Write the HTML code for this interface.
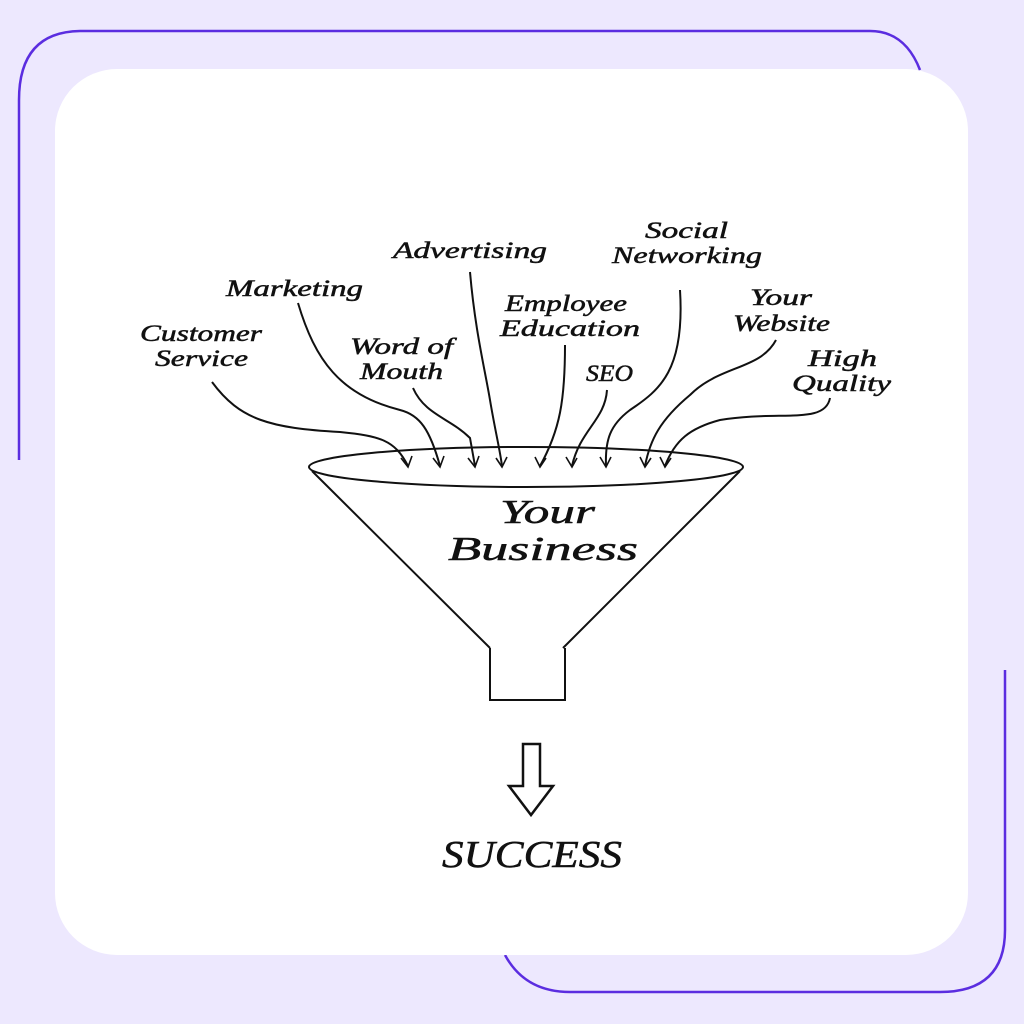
<!DOCTYPE html>
<html><head><style>
html,body{margin:0;padding:0;background:#ede8fe;}
svg{display:block}
text{font-family:"Liberation Serif",serif;font-style:italic;fill:#111;stroke:#111;stroke-width:0.5;}
</style></head><body>
<svg width="1024" height="1024" viewBox="0 0 1024 1024">
<rect width="1024" height="1024" fill="#ede8fe"/>
<path d="M19,460 L19,100 Q19,32 80,31 L870,31 Q905,31 920,70" fill="none" stroke="#5b2de0" stroke-width="2.5"/>
<path d="M505,955 Q525,992 570,992 L940,992 Q1005,992 1005,930 L1005,670" fill="none" stroke="#5b2de0" stroke-width="2.5"/>
<rect x="55" y="69" width="913" height="886" rx="62" fill="#fff"/>
<g fill="none" stroke="#111" stroke-width="2">
<ellipse cx="526" cy="467" rx="217" ry="20"/>
<path d="M312,471 L490,648 M740,471 L563,648"/>
<path d="M490,648 L490,700 L565,700 L565,648"/>
<path d="M523,744 L540,744 L540,786 L553,786 L531,815 L509,786 L523,786 Z" stroke-width="2.5"/>
<path d="M212,382 C240,420 270,428 340,432 C380,436 395,440 408,466"/>
<path d="M298,303 C315,360 340,395 400,410 C420,415 430,430 440,466"/>
<path d="M413,388 C425,415 450,418 470,438 L475,466"/>
<path d="M470,272 C475,330 485,370 490,400 C495,430 500,450 502,466"/>
<path d="M565,345 C565,400 560,430 540,466"/>
<path d="M607,390 C605,420 580,430 572,466"/>
<path d="M680,290 C685,370 660,390 630,410 C610,425 605,440 606,466"/>
<path d="M776,340 C760,370 720,365 690,395 C660,420 650,440 645,466"/>
<path d="M830,398 C825,425 780,410 720,420 C690,428 675,440 665,466"/>
<g stroke-width="1.6">
<path d="M401,458 L408,467 L412,456 M433,458 L440,467 L444,456 M468,458 L475,467 L479,456 M496,458 L502,467 L507,457 M535,457 L540,467 L546,458 M566,457 L572,467 L577,458 M600,457 L606,467 L611,457 M640,457 L645,467 L651,458 M660,457 L665,467 L671,458"/>
</g>
</g>
<g font-size="23">
<text x="140" y="341" textLength="122" lengthAdjust="spacingAndGlyphs">Customer</text>
<text x="155" y="366" textLength="93" lengthAdjust="spacingAndGlyphs">Service</text>
<text x="226" y="296" textLength="137" lengthAdjust="spacingAndGlyphs">Marketing</text>
<text x="350" y="354" textLength="103" lengthAdjust="spacingAndGlyphs">Word of</text>
<text x="360" y="379" textLength="83" lengthAdjust="spacingAndGlyphs">Mouth</text>
<text x="393" y="258" textLength="154" lengthAdjust="spacingAndGlyphs">Advertising</text>
<text x="505" y="311" textLength="122" lengthAdjust="spacingAndGlyphs">Employee</text>
<text x="500" y="336" textLength="140" lengthAdjust="spacingAndGlyphs">Education</text>
<text x="586" y="381" textLength="47" lengthAdjust="spacingAndGlyphs">SEO</text>
<text x="645" y="238" textLength="83" lengthAdjust="spacingAndGlyphs">Social</text>
<text x="612" y="263" textLength="150" lengthAdjust="spacingAndGlyphs">Networking</text>
<text x="750" y="305" textLength="62" lengthAdjust="spacingAndGlyphs">Your</text>
<text x="733" y="331" textLength="97" lengthAdjust="spacingAndGlyphs">Website</text>
<text x="808" y="366" textLength="69" lengthAdjust="spacingAndGlyphs">High</text>
<text x="792" y="391" textLength="99" lengthAdjust="spacingAndGlyphs">Quality</text>
</g>
<text x="500" y="523" font-size="34" textLength="95" lengthAdjust="spacingAndGlyphs">Your</text>
<text x="448" y="560" font-size="34" textLength="190" lengthAdjust="spacingAndGlyphs">Business</text>
<text x="442" y="867" font-size="38" textLength="180" lengthAdjust="spacingAndGlyphs">SUCCESS</text>
</svg>
</body></html>
